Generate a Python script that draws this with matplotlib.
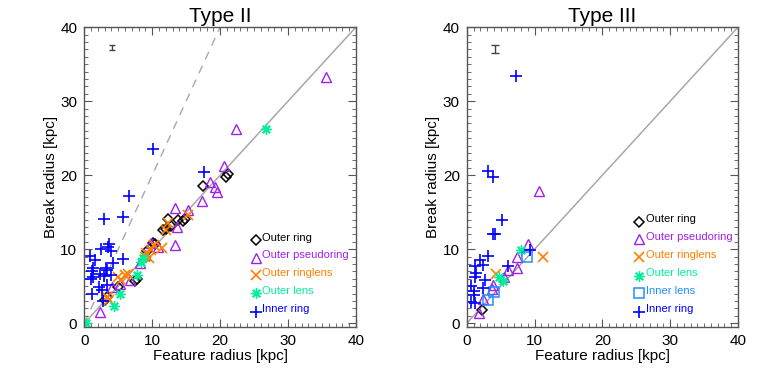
import matplotlib
matplotlib.use('Agg')
import matplotlib.pyplot as plt
import numpy as np
from matplotlib.ticker import MultipleLocator

plt.rcParams['font.family'] = ['Liberation Sans', 'DejaVu Sans']

### DATA (feature radius, break radius) in kpc

# Type II
t2_oring_x = [21.1, 20.8, 17.5, 12.3, 13.8, 14.8, 14.5, 11.6, 12.0, 12.8, 10.1, 10.4, 9.2, 7.5, 7.8, 5.0, 3.3, 3.0]
t2_oring_y = [20.1, 19.8, 18.6, 14.1, 14.0, 14.1, 13.8, 12.6, 12.8, 13.2, 10.9, 10.7, 9.7, 5.7, 6.0, 4.9, 3.6, 3.2]
t2_opseudo_x = [35.6, 22.4, 20.5, 18.5, 19.2, 19.5, 17.4, 13.3, 15.2, 13.4, 13.6, 10.8, 9.8, 8.2, 6.7, 5.2, 4.1, 2.3, 9.0]
t2_opseudo_y = [33.3, 26.3, 21.3, 19.1, 18.4, 17.7, 16.5, 15.6, 15.3, 10.6, 13.0, 10.3, 10.9, 8.1, 5.8, 5.3, 4.9, 1.5, 9.2]
t2_oringlens_x = [15.3, 12.4, 12.0, 11.4, 9.8, 9.1, 8.9, 9.5, 6.0, 5.4, 5.0, 3.3, 3.7, 6.5, 10.2]
t2_oringlens_y = [14.6, 13.5, 12.6, 10.2, 9.9, 9.5, 9.0, 8.8, 6.5, 5.8, 6.2, 3.5, 3.2, 6.6, 10.6]
t2_olens_x = [26.7, 8.3, 8.6, 7.8, 5.2, 4.4, 0.3]
t2_olens_y = [26.3, 8.3, 8.8, 6.5, 4.0, 2.4, 0.0]
t2_iring_x = [10.1, 6.6, 5.7, 2.9, 5.7, 17.6, 3.5, 2.4, 3.9, 0.8, 1.6, 4.3, 1.2, 1.3, 3.3, 3.2,
              2.9, 4.0, 1.3, 3.4, 2.1, 1.2, 2.6, 2.8, 1.0, 2.3, 3.6]
t2_iring_y = [23.5, 17.2, 14.4, 14.1, 8.7, 20.4, 10.3, 10.0, 9.8, 9.05, 8.5, 8.2, 7.1, 7.5, 7.2, 7.5,
              6.4, 6.5, 6.3, 5.2, 4.9, 4.0, 4.5, 3.0, 6.0, 6.6, 10.7]

# Type III
t3_oring_x = [2.2]
t3_oring_y = [1.85]
t3_opseudo_x = [10.7, 9.0, 7.4, 7.4, 6.1, 5.5, 3.9, 3.7, 2.4, 1.8]
t3_opseudo_y = [17.8, 10.7, 8.9, 7.4, 7.2, 6.3, 5.2, 4.6, 3.3, 1.4]
t3_oringlens_x = [11.3, 4.3]
t3_oringlens_y = [8.9, 6.6]
t3_olens_x = [8.0, 4.7, 5.4]
t3_olens_y = [9.9, 6.3, 5.7]
t3_ilens_x = [8.9, 4.0, 3.2]
t3_ilens_y = [9.0, 4.2, 3.1]
t3_iring_x = [7.3, 3.2, 3.9, 5.2, 3.8, 4.1, 3.1, 2.0, 1.2, 2.45, 1.4, 1.2, 2.7, 0.6, 1.0, 1.1,
              2.45, 0.7, 1.2, 6.1, 9.3]
t3_iring_y = [33.4, 20.6, 19.7, 14.0, 12.0, 12.0, 9.1, 8.5, 7.7, 7.9, 6.8, 6.3, 5.8, 5.1, 4.3, 3.8,
              4.7, 2.9, 2.8, 7.7, 9.9]

# typical error bars
err_t2 = (4.1, 37.2, 0.35)
err_t3 = (4.2, 37.0, 0.55)

### STYLES
c_oring = 'black'
c_opseudo = '#A020F0'
c_oringlens = '#FF7F00'
c_olens = '#00F09A'
c_ilens = '#1E90FF'
c_iring = '#0000FF'
star = (8, 2, 0)

styles = {
    'Outer ring': dict(marker='D', color=c_oring, ms=4.8, mfc='none', mew=1.1),
    'Outer pseudoring': dict(marker='^', color=c_opseudo, ms=7.5, mfc='none', mew=1.0),
    'Outer ringlens': dict(marker='x', color=c_oringlens, ms=6.5, mew=1.2),
    'Outer lens': dict(marker=star, color=c_olens, ms=7.5, mew=1.0),
    'Inner lens': dict(marker='s', color=c_ilens, ms=7, mfc='none', mew=1.1),
    'Inner ring': dict(marker='+', color=c_iring, ms=8, mew=1.2),
}

fig = plt.figure(figsize=(7.64, 3.82), dpi=100)
ax1 = fig.add_axes([0.1103, 0.144, 0.3556, 0.785])
ax2 = fig.add_axes([0.6109, 0.144, 0.3551, 0.785])


def setup(ax, title):
    xx = np.array([0, 40])
    ax.plot(xx, xx, color='#A8A8A8', lw=1.1, zorder=1)
    ax.set_xlim(0, 40)
    ax.set_ylim(-0.5, 40)
    ax.xaxis.set_major_locator(MultipleLocator(10))
    ax.yaxis.set_major_locator(MultipleLocator(10))
    ax.xaxis.set_minor_locator(MultipleLocator(1))
    ax.yaxis.set_minor_locator(MultipleLocator(1))
    ax.tick_params(which='both', direction='in', top=True, right=True, color='#555555')
    ax.tick_params(which='major', length=6, labelsize=11, pad=5)
    ax.tick_params(which='minor', length=3)
    for s in ax.spines.values():
        s.set_color('#555555')
        s.set_linewidth(1.0)
    ax.set_title(title, fontsize=15, pad=4)
    ax.set_xlabel('Feature radius [kpc]', fontsize=11, labelpad=1)
    ax.set_ylabel('Break radius [kpc]', fontsize=11, labelpad=2)


def legend(ax, names, x0, ys):
    for name, yy in zip(names, ys):
        st = styles[name]
        ax.plot([x0], [yy], transform=ax.transAxes, ls='none', clip_on=False, **st)
        ax.text(x0 + 0.024, yy + 0.008, name, transform=ax.transAxes, color=st['color'],
                fontsize=8, va='center', ha='left')


# Type II
setup(ax1, 'Type II')
ax1.plot([0, 20], [0, 40], color='#A8A8A8', lw=1.0, ls=(0, (6, 5)), zorder=1)
ax1.plot(t2_oring_x, t2_oring_y, ls='none', **styles['Outer ring'])
ax1.plot(t2_opseudo_x, t2_opseudo_y, ls='none', **styles['Outer pseudoring'])
ax1.plot(t2_oringlens_x, t2_oringlens_y, ls='none', **styles['Outer ringlens'])
ax1.plot(t2_olens_x, t2_olens_y, ls='none', **styles['Outer lens'])
ax1.plot(t2_iring_x, t2_iring_y, ls='none', **styles['Inner ring'])
ax1.errorbar([err_t2[0]], [err_t2[1]], yerr=[err_t2[2]], fmt='none', ecolor='#444444',
             elinewidth=1.0, capsize=2.5, capthick=1.0)
legend(ax1, ['Outer ring', 'Outer pseudoring', 'Outer ringlens', 'Outer lens', 'Inner ring'],
       0.632, [0.29, 0.231, 0.173, 0.112, 0.051])

# Type III
setup(ax2, 'Type III')
ax2.plot(t3_oring_x, t3_oring_y, ls='none', **styles['Outer ring'])
ax2.plot(t3_opseudo_x, t3_opseudo_y, ls='none', **styles['Outer pseudoring'])
ax2.plot(t3_oringlens_x, t3_oringlens_y, ls='none', **styles['Outer ringlens'])
ax2.plot(t3_olens_x, t3_olens_y, ls='none', **styles['Outer lens'])
ax2.plot(t3_ilens_x, t3_ilens_y, ls='none', **styles['Inner lens'])
ax2.plot(t3_iring_x, t3_iring_y, ls='none', **styles['Inner ring'])
ax2.errorbar([err_t3[0]], [err_t3[1]], yerr=[err_t3[2]], fmt='none', ecolor='#444444',
             elinewidth=1.0, capsize=3, capthick=1.0)
legend(ax2, ['Outer ring', 'Outer pseudoring', 'Outer ringlens', 'Outer lens', 'Inner lens', 'Inner ring'],
       0.635, [0.351, 0.293, 0.232, 0.171, 0.112, 0.051])

fig.savefig('out.png', dpi=100)
